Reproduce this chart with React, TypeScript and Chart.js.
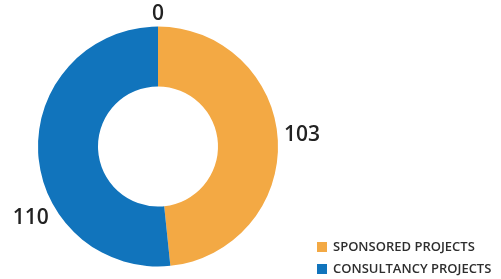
import React, { useEffect, useRef } from "react";
import { Chart, registerables } from "chart.js";

Chart.register(...registerables);

const categories = ["", "SPONSORED PROJECTS", "CONSULTANCY PROJECTS"];
const values = [0, 103, 110];
const colors = ["#9E9E9E", "#F3A944", "#1174BC"];

const FONT = "'Open Sans', 'Noto Sans', sans-serif";

const valueLabelPlugin = {
  id: "valueLabels",
  afterDraw(chart: any) {
    const ctx = chart.ctx;
    const meta = chart.getDatasetMeta(0);
    const shifts = [0, -2, -26];
    ctx.save();
    ctx.font = `600 21px ${FONT}`;
    ctx.fillStyle = "#222222";
    ctx.textAlign = "center";
    ctx.textBaseline = "middle";
    meta.data.forEach((arc: any, i: number) => {
      const { x, y, startAngle, endAngle, outerRadius } = arc.getProps(
        ["x", "y", "startAngle", "endAngle", "outerRadius"],
        true
      );
      const txt = String(values[i]);
      const mid = (startAngle + endAngle) / 2 + (shifts[i] * Math.PI) / 180;
      const w = ctx.measureText(txt).width / 2;
      const h = 7.5;
      const c = Math.cos(mid);
      const s = Math.sin(mid);
      const ext = Math.abs(c) * w + Math.abs(s) * h;
      const r = outerRadius + 6 + ext;
      ctx.fillText(txt, x + c * r, y + s * r + 1);
    });
    ctx.restore();
  },
};

const legendPlugin = {
  id: "customLegend",
  afterDraw(chart: any) {
    const ctx = chart.ctx;
    ctx.save();
    ctx.font = `600 13px ${FONT}`;
    ctx.textBaseline = "middle";
    ctx.textAlign = "left";
    let row = 0;
    categories.forEach((cat, i) => {
      if (!cat) return;
      const y = 242 + row * 22;
      ctx.fillStyle = colors[i];
      ctx.fillRect(317, y, 10, 10);
      ctx.fillStyle = "#2e2e2e";
      ctx.fillText(cat, 333, y + 5.5);
      row++;
    });
    ctx.restore();
  },
};

export default function App() {
  const ref = useRef<HTMLCanvasElement>(null);
  useEffect(() => {
    if (!ref.current) return;
    const chart = new Chart(ref.current, {
      type: "doughnut",
      data: {
        labels: categories,
        datasets: [
          {
            data: values,
            backgroundColor: colors,
            borderWidth: 0,
          },
        ],
      },
      options: {
        animation: false,
        responsive: false,
        cutout: "50%",
        layout: { padding: { left: 38, right: 223, top: 26.5, bottom: 12.5 } },
        plugins: {
          legend: { display: false },
          tooltip: { enabled: false },
        },
      },
      plugins: [valueLabelPlugin, legendPlugin],
    });
    return () => chart.destroy();
  }, []);
  return (
    <div style={{ position: "fixed", left: 0, top: 0, width: 501, height: 279, background: "#fff" }}>
      <canvas ref={ref} width={501} height={279} style={{ width: 501, height: 279 }} />
    </div>
  );
}
